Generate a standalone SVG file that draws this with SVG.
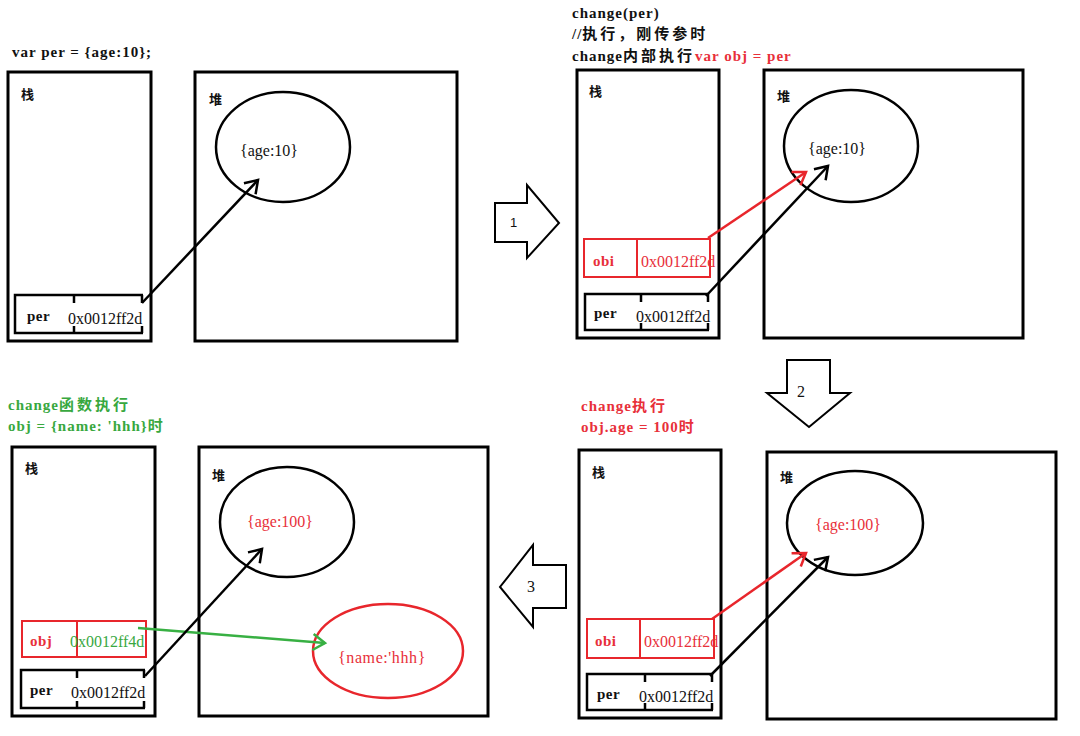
<svg xmlns="http://www.w3.org/2000/svg" width="1080" height="736" viewBox="0 0 1080 736">
<style>
.box{fill:none;stroke:#000;stroke-width:3}
.ell{fill:none;stroke:#000;stroke-width:2.5}
.row{fill:none;stroke:#000;stroke-width:2.5}
.rrow{fill:none;stroke:#e8262c;stroke-width:2}
.t{font-family:"Liberation Serif","Noto Sans CJK SC",serif;font-size:15px;font-weight:bold;fill:#111;letter-spacing:1px}
.c{letter-spacing:3px}
.v{font-family:"Liberation Serif","Noto Sans CJK SC",serif;font-size:16px;fill:#111}
.lb{font-family:"Liberation Serif",serif;font-size:15px;font-weight:bold;fill:#111;letter-spacing:0.5px}
.red{fill:#e8303a}
.grn{fill:#38a83f}
.cn{font-family:"Noto Sans CJK SC",serif;font-size:13px;font-weight:bold;fill:#111}
.num{font-family:"Liberation Sans",sans-serif;font-size:13px;fill:#111}
.blk{fill:#fff;stroke:#000;stroke-width:2}
.ab{fill:none;stroke:#000;stroke-width:2.5}
.ar{fill:none;stroke:#e8262c;stroke-width:2.5}
.ag{fill:none;stroke:#38b043;stroke-width:2.5}
</style>
<defs>
<marker id="mb" markerUnits="userSpaceOnUse" markerWidth="20" markerHeight="20" refX="14" refY="10" orient="auto"><path d="M2,2 L14,10 L2,18" fill="none" stroke="#000" stroke-width="2.5"/></marker>
<marker id="mr" markerUnits="userSpaceOnUse" markerWidth="20" markerHeight="20" refX="14" refY="10" orient="auto"><path d="M2,2 L14,10 L2,18" fill="none" stroke="#e8262c" stroke-width="2.5"/></marker>
<marker id="mg" markerUnits="userSpaceOnUse" markerWidth="20" markerHeight="20" refX="14" refY="10" orient="auto"><path d="M2,2 L14,10 L2,18" fill="none" stroke="#38b043" stroke-width="2.5"/></marker>
</defs>
<rect width="1080" height="736" fill="#fff"/>

<!-- Panel 1 -->
<g id="panel1">
<text class="t" x="12" y="57">var per = {age:10};</text>
<g id="p1-stack">
<rect class="box" x="8" y="72" width="143" height="269"/>
<text class="cn" x="21" y="99">栈</text>
</g>
<g id="p1-heap">
<rect class="box" x="195" y="72" width="262" height="269"/>
<text class="cn" x="209" y="104">堆</text>
<ellipse class="ell" cx="283" cy="147" rx="67" ry="55"/>
<text class="v" x="240" y="156">{age:10}</text>
</g>
<g id="p1-per">
<path class="row" d="M143,295 H15 V333 H143 M74,295 V303 M74,326 V333 M142,295 V303 M142,326 V333"/>
<text class="lb" x="27" y="321">per</text>
<text class="v" x="68" y="324">0x0012ff2d</text>
</g>
</g>

<!-- Panel 2 -->
<g id="panel2">
<text class="t" x="572" y="18">change(per)</text>
<text class="t" x="572" y="39">//<tspan class="c">执行，刚传参时</tspan></text>
<text class="t" x="572" y="61">change<tspan class="c">内部执行</tspan><tspan class="red">var obj = per</tspan></text>
<g id="p2-stack">
<rect class="box" x="577" y="70" width="142" height="268"/>
<text class="cn" x="589" y="96">栈</text>
</g>
<g id="p2-heap">
<rect class="box" x="764" y="70" width="259" height="268"/>
<text class="cn" x="777" y="101">堆</text>
<ellipse class="ell" cx="851" cy="146" rx="67" ry="56"/>
<text class="v" x="808" y="154">{age:10}</text>
</g>
<g id="p2-obj">
<path class="rrow" d="M584,239 H710 V277 H584 Z M637,239 V277"/>
<text class="lb red" x="593" y="266">obi</text>
<text class="v red" x="641" y="267">0x0012ff2d</text>
</g>
<g id="p2-per">
<path class="row" d="M709,294 H585 V330 H709 M641,294 V302 M641,323 V330 M708,294 V302 M708,323 V330"/>
<text class="lb" x="594" y="318">per</text>
<text class="v" x="636" y="322">0x0012ff2d</text>
</g>
</g>

<!-- Panel 3 -->
<g id="panel3">
<text class="t red" x="581" y="411">change<tspan class="c">执行</tspan></text>
<text class="t red" x="581" y="432">obj.age = 100<tspan class="c">时</tspan></text>
<g id="p3-stack">
<rect class="box" x="579" y="450" width="142" height="268"/>
<text class="cn" x="592" y="477">栈</text>
</g>
<g id="p3-heap">
<rect class="box" x="767" y="452" width="289" height="267"/>
<text class="cn" x="780" y="482">堆</text>
<ellipse class="ell" cx="855" cy="523" rx="68" ry="52"/>
<text class="v red" x="815" y="530">{age:100}</text>
</g>
<g id="p3-obj">
<path class="rrow" d="M587,619 H714 V658 H587 Z M640,619 V658"/>
<text class="lb red" x="595" y="646">obi</text>
<text class="v red" x="644" y="647">0x0012ff2d</text>
</g>
<g id="p3-per">
<path class="row" d="M713,674 H587 V710 H713 M645,674 V682 M645,703 V710 M712,674 V682 M712,703 V710"/>
<text class="lb" x="597" y="699">per</text>
<text class="v" x="639" y="702">0x0012ff2d</text>
</g>
</g>

<!-- Panel 4 -->
<g id="panel4">
<text class="t grn" x="8" y="410">change<tspan class="c">函数执行</tspan></text>
<text class="t grn" x="8" y="431">obj = {name: 'hhh}<tspan class="c">时</tspan></text>
<g id="p4-stack">
<rect class="box" x="12" y="447" width="143" height="269"/>
<text class="cn" x="25" y="473">栈</text>
</g>
<g id="p4-heap">
<rect class="box" x="199" y="447" width="289" height="269"/>
<text class="cn" x="212" y="480">堆</text>
<ellipse class="ell" cx="287" cy="522" rx="67" ry="55"/>
<text class="v red" x="247" y="527">{age:100}</text>
<ellipse fill="none" stroke="#e8262c" stroke-width="2.5" cx="388" cy="651" rx="75" ry="47"/>
<text class="v red" x="338" y="663" style="letter-spacing:0.6px">{name:'hhh}</text>
</g>
<g id="p4-obj">
<path class="rrow" d="M22,621 H146 V657 H22 Z M77,621 V657"/>
<text class="lb red" x="30" y="646">obj</text>
<text class="v grn" x="70" y="647">0x0012ff4d</text>
</g>
<g id="p4-per">
<path class="row" d="M145,670 H21 V708 H145 M77,670 V678 M77,701 V708 M144,670 V678 M144,701 V708"/>
<text class="lb" x="30" y="695">per</text>
<text class="v" x="71" y="698">0x0012ff2d</text>
</g>
</g>

<!-- Step arrows -->
<g id="step1">
<path class="blk" d="M495,203 H527 V185 L559,223 L527,258 V242 H495 Z"/>
<text class="num" x="510" y="227">1</text>
</g>
<g id="step2">
<path class="blk" d="M787,360 H830 V393 H850 L809,427 L767,393 H787 Z"/>
<text class="v" x="797" y="397">2</text>
</g>
<g id="step3">
<path class="blk" d="M566,565 V608 H533 V627 L500,587 L533,545 V565 Z"/>
<text class="v" x="527" y="592">3</text>
</g>

<!-- Connectors -->
<g id="connectors">
<line class="ab" x1="142" y1="303" x2="258" y2="180" marker-end="url(#mb)"/>
<line class="ar" x1="708" y1="238" x2="806" y2="172" marker-end="url(#mr)"/>
<line class="ab" x1="706" y1="296" x2="828" y2="166" marker-end="url(#mb)"/>
<line class="ar" x1="712" y1="619" x2="806" y2="553" marker-end="url(#mr)"/>
<line class="ab" x1="710" y1="676" x2="828" y2="557" marker-end="url(#mb)"/>
<line class="ag" x1="138" y1="628" x2="325" y2="643" marker-end="url(#mg)"/>
<line class="ab" x1="145" y1="676" x2="262" y2="549" marker-end="url(#mb)"/>
</g>
</svg>
